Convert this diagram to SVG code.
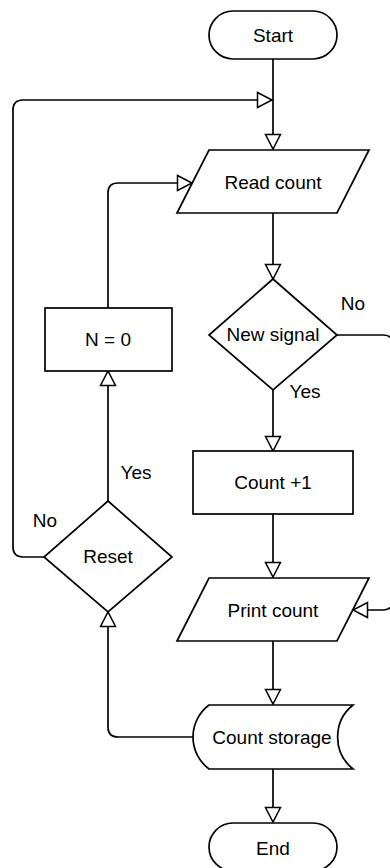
<svg xmlns="http://www.w3.org/2000/svg" width="390" height="868" viewBox="0 0 390 868">
<style>
.s{fill:#fff;stroke:#000;stroke-width:1.7}
.c{fill:none;stroke:#000;stroke-width:1.7;marker-end:url(#ah)}
text{font-family:"Liberation Sans",Arial,sans-serif;font-size:19px;fill:#000;text-anchor:middle}
</style>
<defs>
<marker id="ah" markerUnits="userSpaceOnUse" markerWidth="18" markerHeight="18" viewBox="0 0 18 18" refX="16" refY="9" orient="auto">
<path d="M1.5,1.5 L16,9 L1.5,16.5 Z" fill="#fff" stroke="#000" stroke-width="1.5"/>
</marker>
</defs>
<rect width="390" height="868" fill="#fff"/>
<g id="connectors">
<path class="c" d="M273,59 V149"/>
<path class="c" d="M45,557 H23 Q13,557 13,547 V110 Q13,100 23,100 H272"/>
<path class="c" d="M108,308 V193 Q108,183 118,183 H192"/>
<path class="c" d="M273,213 V279"/>
<path class="c" d="M273,390 V451"/>
<path class="c" d="M337,335 H383 Q393,335 393,345 V600 Q393,610 383,610 H353"/>
<path class="c" d="M273,514 V577"/>
<path class="c" d="M273,641 V704"/>
<path class="c" d="M193,737 H118 Q108,737 108,727 V612"/>
<path class="c" d="M108,501 V371"/>
<path class="c" d="M273,769 V822"/>
</g>
<g id="start"><rect class="s" x="209" y="11" width="128" height="48" rx="24"/><text x="273" y="42">Start</text></g>
<g id="read"><polygon class="s" points="209,150 369,150 337,213 177,213"/><text x="273" y="189">Read count</text></g>
<g id="newsignal"><polygon class="s" points="273,279 337,335 273,390 209,335"/><text x="273" y="341">New signal</text></g>
<g id="count"><rect class="s" x="193" y="451" width="160" height="63"/><text x="273" y="489">Count +1</text></g>
<g id="print"><polygon class="s" points="209,578 369,578 337,641 177,641"/><text x="273" y="617">Print count</text></g>
<g id="storage"><path class="s" d="M209,705 H353 A41,41 0 0 0 353,769 H209 A40,40 0 0 1 209,705 Z"/><text x="272" y="744">Count storage</text></g>
<g id="end"><rect class="s" x="209" y="823" width="128" height="48" rx="24"/><text x="273" y="855">End</text></g>
<g id="reset"><polygon class="s" points="108,501 172,557 108,612 44,557"/><text x="108" y="563">Reset</text></g>
<g id="n0"><rect class="s" x="45" y="308" width="127" height="63"/><text x="108" y="346">N = 0</text></g>
<g id="labels">
<text x="353" y="310">No</text>
<text x="305" y="398">Yes</text>
<text x="136" y="479">Yes</text>
<text x="45" y="527">No</text>
</g>
</svg>
